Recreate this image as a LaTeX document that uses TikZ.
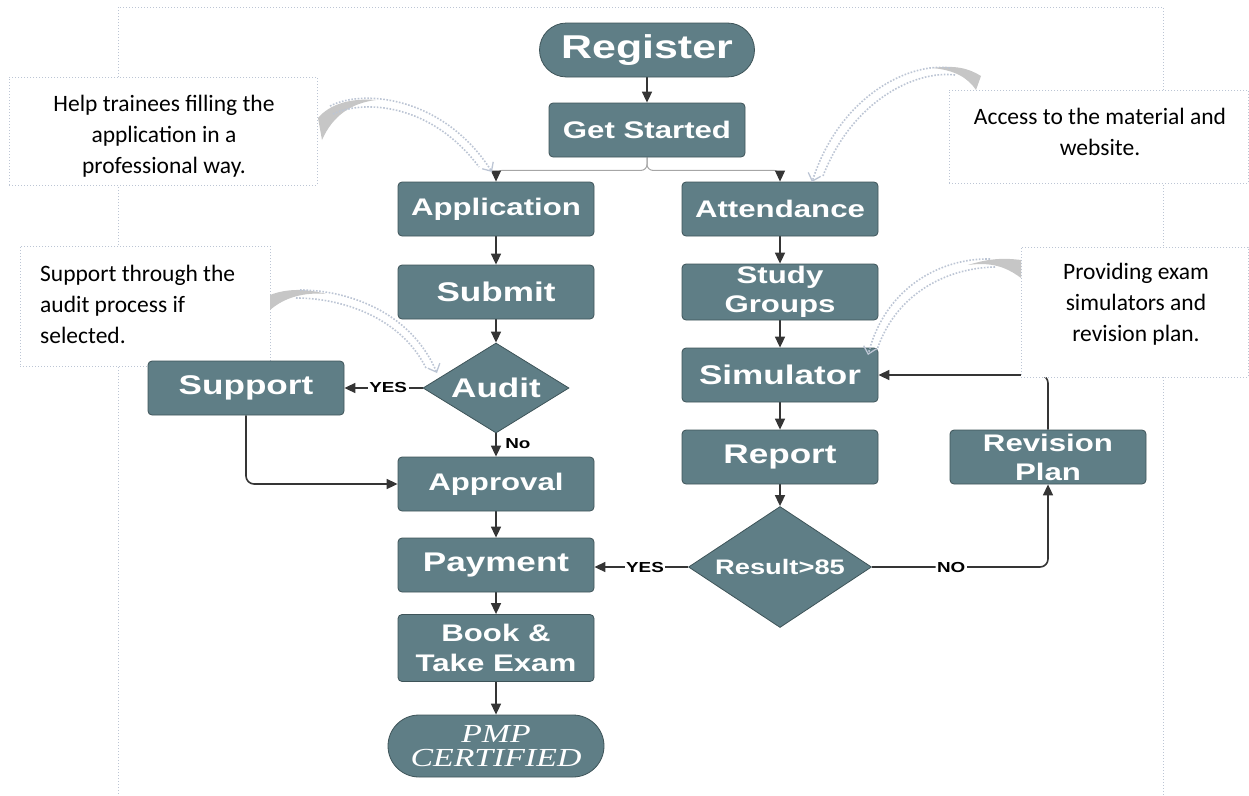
\documentclass[tikz,border=0pt]{standalone}
\usepackage{fontspec}
\setmainfont{Carlito}
\newfontfamily\flowfont{Liberation Sans}[FakeStretch=1.3]
\newfontfamily\certfont{Liberation Serif}[FakeStretch=1.3]
\usetikzlibrary{shapes.geometric,arrows.meta,calc}
\definecolor{nodefill}{HTML}{5F7E86}
\definecolor{nodeline}{HTML}{3E5459}
\definecolor{arrowcol}{HTML}{353535}
\definecolor{dotcol}{HTML}{BCC5D4}
\definecolor{ghostfill}{HTML}{C6C6C6}
\pgfdeclarelayer{bg}
\pgfdeclarelayer{mid}
\pgfsetlayers{bg,mid,main}
\begin{document}
\begin{tikzpicture}[x=1pt,y=-1pt,
  flow/.style={draw=nodeline, line width=0.8pt, fill=nodefill, text=white, inner sep=0pt, align=center},
  fsz/.style 2 args={font=\flowfont\bfseries\fontsize{#1}{#2}\selectfont},
  box/.style={flow, rectangle, rounded corners=4pt, minimum width=196pt, minimum height=54pt},
  dec/.style={flow, diamond},
  conn/.style={draw=arrowcol, line width=1.6pt, -{Triangle[length=11pt,width=10pt]}},
  branch/.style={draw=gray!70, line width=1pt, rounded corners=6pt, -{Triangle[length=11pt,width=10pt,color=arrowcol]}},
  lbl/.style={font=\flowfont\bfseries\fontsize{14.5}{14.5}\selectfont, fill=white, inner sep=1.5pt, text=black},
  callout/.style={draw=dotcol, dotted, line width=1pt, fill=white},
  ctext/.style={font=\fontsize{23.5}{31}\selectfont, inner sep=0pt, align=center, text=black},
  ghost/.style={draw=dotcol, dash pattern=on 1.6pt off 1.6pt, line width=1.6pt},
  ghosttip/.style={-{Straight Barb[length=7pt,width=13pt,line width=1.3pt]}},
  ghostband/.style={fill=ghostfill, draw=none},
]
\useasboundingbox (0,0) rectangle (1249,795);

% ---------- flow nodes ----------
\node[flow, rectangle, rounded corners=27pt, minimum width=215pt, minimum height=54pt, fsz={33}{38}] (reg) at (647,50) {Register};
\node[box, fsz={24}{29}] (gs) at (647,130) {Get Started};
\node[box, fsz={24}{29}] (app) at (496,209) {Application};
\node[box, fsz={24}{29}] (att) at (780,209) {Attendance};
\node[box, fsz={27}{32}] (sub) at (496,292) {Submit};
\node[box, minimum height=56pt, fsz={24}{29}] (sg) at (780,292) {Study\\Groups};
\node[dec, shape aspect=1.6, minimum width=146pt, minimum height=90pt, fsz={27}{32}] (audit) at (496,388) {Audit};
\node[box, fsz={27}{32}] (sup) at (246,388) {Support};
\node[box, fsz={27}{32}] (sim) at (780,375) {Simulator};
\node[box, fsz={24}{29}] (appr) at (496,484) {Approval};
\node[box, fsz={27}{32}] (rep) at (780,457) {Report};
\node[box, fsz={24}{29}] (rev) at (1048,457) {Revision\\Plan};
\node[dec, shape aspect=1.5, minimum width=183pt, minimum height=121pt, fsz={21}{25}] (res) at (780,567) {Result>85};
\node[box, fsz={27}{32}] (pay) at (496,565) {Payment};
\node[box, minimum height=67pt, fsz={24}{30}] (book) at (496,648) {Book \&\\Take Exam};
\node[flow, rectangle, rounded corners=31pt, minimum width=216pt, minimum height=62pt, font=\certfont\itshape\fontsize{26}{24}\selectfont] (pmp) at (496,746) {PMP\\CERTIFIED};

% ---------- frame and connectors (background) ----------
\begin{pgfonlayer}{bg}
\draw[dotcol, dotted, line width=1pt] (118,800) -- (118,7) -- (1163,7) -- (1163,800);
\draw[conn] (reg) -- (gs);
\draw[branch] (gs.south) -- ++(0,13) -| (app.north);
\draw[branch] (gs.south) -- ++(0,13) -| (att.north);
\draw[conn] (app) -- (sub);
\draw[conn] (sub) -- (audit);
\draw[conn] (audit.west) -- node[lbl, pos=0.44] {YES} (audit.west -| sup.east);
\draw[conn] (audit.south) -- node[lbl, pos=0.45, anchor=west, xshift=7pt, fill=none] {No} (appr.north);
\draw[conn, rounded corners=8pt] (sup.south) |- (appr.west);
\draw[conn] (appr) -- (pay);
\draw[conn] (pay) -- (book);
\draw[conn] (book) -- (pmp);
\draw[conn] (att) -- (sg);
\draw[conn] (sg) -- (sim);
\draw[conn] (sim) -- (rep);
\draw[conn] (rep) -- (res);
\draw[conn] (res.west) -- node[lbl, pos=0.46] {YES} (res.west -| pay.east);
\draw[conn, rounded corners=8pt] (res.east) -| node[lbl, pos=0.225] {NO} (rev.south);
\draw[conn, rounded corners=8pt] (rev.north) |- (sim.east);
\end{pgfonlayer}

% ---------- callouts (between connectors and flow nodes) ----------
\begin{pgfonlayer}{mid}
\node[callout, minimum width=308pt, minimum height=108pt, inner sep=0pt] (c1) at (163,131) {};
\node[ctext] (t1) at (164,136) {Help trainees filling the\\application in a\\professional way.};
\node[callout, minimum width=299pt, minimum height=93pt, inner sep=0pt] (c2) at (1098.5,136.5) {};
\node[ctext] (t2) at (1100,132) {Access to the material and\\website.};
\node[callout, minimum width=250pt, minimum height=120pt, inner sep=0pt] (c3) at (145,306) {};
\node[ctext, align=left, anchor=west] (t3) at (40,304) {Support through the\\audit process if\\selected.};
\node[callout, minimum width=227pt, minimum height=130pt, inner sep=0pt] (c4) at (1134.5,312) {};
\node[ctext] (t4) at (1136,304) {Providing exam\\simulators and\\revision plan.};
\end{pgfonlayer}

% ---------- ghost callout arrows ----------
% arrow 1
\fill[ghostband] (318,118) .. controls (330,104) and (350,98) .. (376,100) .. controls (352,103) and (333,115) .. (322,140) -- cycle;
\draw[ghost, ghosttip] (330,106) .. controls (365,88) and (445,98) .. (492,172);
\draw[ghost] (333,114) .. controls (365,99) and (432,104) .. (479,167);
% arrow 2
\fill[ghostband] (981,76) .. controls (968,68) and (955,65) .. (932,68) .. controls (955,70) and (968,78) .. (976,90) -- cycle;
\draw[ghost, ghosttip] (950,68) .. controls (910,62) and (840,95) .. (812,182);
\draw[ghost] (955,75) .. controls (915,70) and (852,101) .. (823,176);
% arrow 3
\fill[ghostband] (270,295) .. controls (285,289) and (305,288) .. (326,294) .. controls (305,292) and (285,297) .. (270,310) -- cycle;
\draw[ghost, ghosttip] (300,290) .. controls (345,290) and (410,310) .. (437,373);
\draw[ghost] (296,298) .. controls (340,298) and (400,316) .. (426,368);
% arrow 4
\fill[ghostband] (1021,260) .. controls (1005,258) and (990,258) .. (968,265) .. controls (990,262) and (1005,266) .. (1021,278) -- cycle;
\draw[ghost, ghosttip] (990,259) .. controls (940,258) and (885,288) .. (868,355);
\draw[ghost] (995,267) .. controls (945,268) and (895,295) .. (877,350);
\end{tikzpicture}
\end{document}
